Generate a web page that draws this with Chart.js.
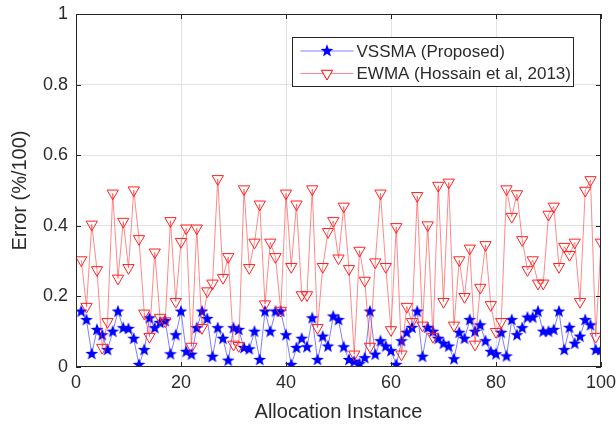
<!DOCTYPE html>
<html>
<head>
<meta charset="utf-8">
<script src="https://cdn.jsdelivr.net/npm/chart.js@4/dist/chart.umd.min.js"></script>
<style>
  html, body { margin: 0; padding: 0; background: #fff; }
  canvas { display: block; }
</style>
</head>
<body>
<canvas id="grafica" width="616" height="429"></canvas>
<script>
const seriesNames = ['VSSMA (Proposed)', 'EWMA (Hossain et al, 2013)'];

const vssma = [
  0.157, 0.133, 0.037, 0.105, 0.090, 0.048, 0.100, 0.157, 0.110, 0.108,
  0.080, 0.006, 0.048, 0.138, 0.110, 0.125, 0.130, 0.036, 0.090, 0.157,
  0.043, 0.035, 0.110, 0.157, 0.136, 0.029, 0.110, 0.080, 0.018, 0.110,
  0.105, 0.054, 0.050, 0.100, 0.020, 0.157, 0.100, 0.157, 0.157, 0.090,
  0.006, 0.054, 0.080, 0.056, 0.138, 0.020, 0.086, 0.058, 0.143, 0.133,
  0.056, 0.020, 0.015, 0.008, 0.025, 0.157, 0.035, 0.073, 0.058, 0.045,
  0.006, 0.073, 0.097, 0.111, 0.157, 0.029, 0.111, 0.100, 0.080, 0.066,
  0.058, 0.022, 0.097, 0.080, 0.133, 0.100, 0.118, 0.073, 0.043, 0.036,
  0.097, 0.030, 0.133, 0.090, 0.110, 0.140, 0.140, 0.157, 0.100, 0.100,
  0.105, 0.157, 0.048, 0.111, 0.066, 0.086, 0.133, 0.118, 0.048, 0.048
];

const ewma = [
  0.303, 0.171, 0.404, 0.275, 0.055, 0.128, 0.492, 0.251, 0.412, 0.281,
  0.501, 0.363, 0.152, 0.086, 0.325, 0.140, 0.130, 0.414, 0.185, 0.355,
  0.393, 0.058, 0.393, 0.111, 0.215, 0.237, 0.533, 0.253, 0.312, 0.064,
  0.060, 0.504, 0.281, 0.353, 0.461, 0.178, 0.353, 0.312, 0.160, 0.492,
  0.284, 0.461, 0.204, 0.204, 0.504, 0.111, 0.284, 0.383, 0.414, 0.308,
  0.455, 0.278, 0.036, 0.330, 0.245, 0.058, 0.297, 0.492, 0.284, 0.105,
  0.397, 0.036, 0.171, 0.128, 0.485, 0.118, 0.402, 0.086, 0.514, 0.185,
  0.523, 0.118, 0.303, 0.199, 0.336, 0.064, 0.225, 0.346, 0.176, 0.100,
  0.128, 0.504, 0.426, 0.490, 0.360, 0.275, 0.303, 0.237, 0.237, 0.432,
  0.455, 0.284, 0.341, 0.318, 0.353, 0.185, 0.500, 0.530, 0.086, 0.353
];

const xTicks = [0, 20, 40, 60, 80, 100];
const yTicks = [0, 0.2, 0.4, 0.6, 0.8, 1];

const textColor = '#2b2b2b';
Chart.defaults.font.family = '"Liberation Sans", Arial, Helvetica, sans-serif';

// filled five-point star marker (Chart.js 'star' is only an asterisk)
function makeStar(size, color) {
  const c = document.createElement('canvas');
  c.width = size; c.height = size;
  const g = c.getContext('2d');
  const cx = size / 2, cy = size / 2, ro = size / 2 - 0.3, ri = ro * 0.42;
  g.beginPath();
  for (let i = 0; i < 10; i++) {
    const r = i % 2 === 0 ? ro : ri;
    const a = -Math.PI / 2 + i * Math.PI / 5;
    g.lineTo(cx + r * Math.cos(a), cy + r * Math.sin(a));
  }
  g.closePath();
  g.fillStyle = color;
  g.fill();
  return c;
}
const starImg = makeStar(14, '#0000ff');

const toPoints = arr => arr.map((v, i) => ({ x: i + 1, y: v }));

const boxPlugin = {
  id: 'matlabBox',
  afterDraw(chart) {
    const { ctx, chartArea: a, scales } = chart;
    ctx.save();
    ctx.strokeStyle = '#262626';
    ctx.lineWidth = 1;
    ctx.strokeRect(Math.round(a.left) + 0.5, Math.round(a.top) + 0.5,
      Math.round(a.right - a.left) - 1, Math.round(a.bottom - a.top) - 1);
    const t = 5;
    ctx.beginPath();
    xTicks.forEach(v => {
      const px = Math.round(scales.x.getPixelForValue(v)) + 0.5;
      ctx.moveTo(px, a.bottom); ctx.lineTo(px, a.bottom - t);
      ctx.moveTo(px, a.top); ctx.lineTo(px, a.top + t);
    });
    yTicks.forEach(v => {
      const py = Math.round(scales.y.getPixelForValue(v)) + 0.5;
      ctx.moveTo(a.left, py); ctx.lineTo(a.left + t, py);
      ctx.moveTo(a.right, py); ctx.lineTo(a.right - t, py);
    });
    ctx.stroke();
    ctx.restore();
  }
};

const legendPlugin = {
  id: 'boxLegend',
  afterDraw(chart) {
    const { ctx, chartArea: a } = chart;
    const w = 281, h = 49;
    const x0 = Math.round(a.right - 28 - w) + 0.5;
    const y0 = Math.round(a.top + 23) + 0.5;
    ctx.save();
    ctx.fillStyle = '#fff';
    ctx.fillRect(x0, y0, w, h);
    ctx.strokeStyle = '#262626';
    ctx.lineWidth = 1;
    ctx.strokeRect(x0, y0, w, h);
    const rows = [y0 + 13.5, y0 + 36];
    const lx1 = x0 + 8, lx2 = x0 + 61, mx = (lx1 + lx2) / 2;
    ctx.font = '17px "Liberation Sans", Arial, sans-serif';
    ctx.textBaseline = 'middle';
    chart.data.datasets.forEach((ds, i) => {
      const y = rows[i];
      ctx.strokeStyle = ds.borderColor;
      ctx.lineWidth = 1;
      ctx.beginPath();
      ctx.moveTo(lx1, y); ctx.lineTo(lx2, y);
      ctx.stroke();
      if (i === 0) {
        ctx.drawImage(starImg, mx - 7, y - 7);
      } else {
        const r = 6.5;
        ctx.beginPath();
        ctx.moveTo(mx, y + r);
        ctx.lineTo(mx - r * 0.866, y - r / 2);
        ctx.lineTo(mx + r * 0.866, y - r / 2);
        ctx.closePath();
        ctx.fillStyle = '#fff';
        ctx.fill();
        ctx.strokeStyle = '#ff0000';
        ctx.stroke();
      }
      ctx.fillStyle = textColor;
      ctx.fillText(ds.label, x0 + 64, y + 1);
    });
    ctx.restore();
  }
};

const gridColor = ctx => {
  const v = ctx.tick ? ctx.tick.value : null;
  return (v === null || v === ctx.scale.min || v === ctx.scale.max) ? 'rgba(0,0,0,0)' : '#e2e2e2';
};

new Chart(document.getElementById('grafica'), {
  type: 'line',
  data: {
    datasets: [
      {
        label: seriesNames[0],
        data: toPoints(vssma),
        borderColor: 'rgba(40,40,255,0.6)',
        borderWidth: 1,
        pointStyle: starImg,
        pointRadius: 7,
        pointHoverRadius: 7,
        tension: 0,
        order: 2
      },
      {
        label: seriesNames[1],
        data: toPoints(ewma),
        borderColor: 'rgba(255,40,40,0.55)',
        borderWidth: 1,
        pointStyle: 'triangle',
        rotation: 180,
        pointRadius: 6.5,
        pointHoverRadius: 6.5,
        pointBorderColor: '#ff2020',
        pointBorderWidth: 1,
        pointBackgroundColor: 'rgba(255,255,255,0)',
        tension: 0,
        order: 1
      }
    ]
  },
  options: {
    responsive: false,
    animation: false,
    devicePixelRatio: 1,
    layout: { padding: { left: 0, right: 15, top: 14, bottom: 0 } },
    plugins: { legend: { display: false }, tooltip: { enabled: false } },
    scales: {
      x: {
        type: 'linear',
        min: 0,
        max: 100,
        afterBuildTicks: s => { s.ticks = xTicks.map(v => ({ value: v })); },
        afterFit: s => { s.height = 62; s.paddingLeft = 0; s.paddingRight = 0; },
        ticks: { color: textColor, font: { size: 18 }, padding: 5, maxRotation: 0 },
        grid: { color: gridColor, drawTicks: false },
        border: { display: false },
        title: {
          display: true,
          text: 'Allocation Instance',
          color: textColor,
          font: { size: 20 },
          padding: { top: 0, bottom: 5 }
        }
      },
      y: {
        min: 0,
        max: 1,
        afterBuildTicks: s => { s.ticks = yTicks.map(v => ({ value: v })); },
        afterFit: s => { s.width = 76; s.paddingTop = 0; s.paddingBottom = 0; },
        ticks: {
          color: textColor,
          font: { size: 18 },
          padding: 8,
          callback: v => String(Number(v.toFixed(1)))
        },
        grid: { color: gridColor, drawTicks: false },
        border: { display: false },
        title: {
          display: true,
          text: 'Error (%/100)',
          color: textColor,
          font: { size: 20 },
          padding: { top: 8, bottom: 0 }
        }
      }
    }
  },
  plugins: [boxPlugin, legendPlugin]
});
</script>
</body>
</html>
